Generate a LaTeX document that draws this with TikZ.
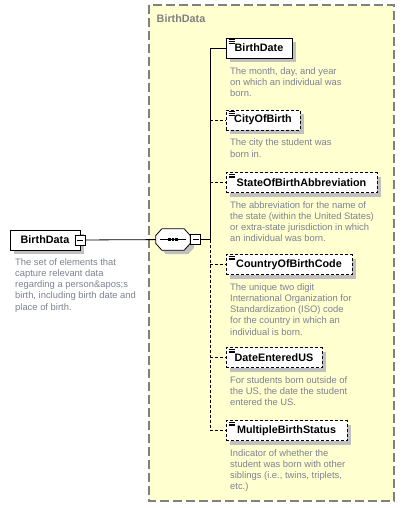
\documentclass[tikz,border=0pt]{standalone}
\usepackage{fontspec}
\setmainfont{Liberation Sans}
\usetikzlibrary{calc}

\definecolor{panelfill}{RGB}{255,255,208}
\definecolor{panelline}{RGB}{128,128,128}
\definecolor{shadowgray}{RGB}{192,192,192}
\definecolor{notegray}{RGB}{125,130,145}

\tikzset{
  boxshadow/.style={preaction={draw=none, fill=shadowgray, transform canvas={xshift=4pt, yshift=-4pt}}},
  elembox/.style={draw=black, fill=white, line width=0.8pt, minimum height=20pt, inner sep=0pt,
    font=\fontsize{10.8}{13}\selectfont\bfseries, boxshadow},
  childbox/.style={elembox, path picture={
    \foreach \k in {1.7,3.3,4.9}
      \draw[solid, line width=0.6pt] ([xshift=2.5pt,yshift=-\k pt]path picture bounding box.north west) -- +(6pt,0);}},
  optbox/.style={childbox, dash pattern=on 3pt off 2pt},
  optline/.style={dash pattern=on 3pt off 2pt},
  note/.style={anchor=north west, align=left, inner sep=0pt, text=notegray,
    font=\fontsize{9.4}{11.25}\selectfont},
  minusbox/.style={draw=black, fill=white, line width=0.8pt, minimum size=10pt, inner sep=0pt,
    path picture={\draw ([xshift=2pt]path picture bounding box.west) -- ([xshift=-2pt]path picture bounding box.east);}},
  seqframe/.style={minimum width=34pt, minimum height=21pt, inner sep=0pt},
}

\begin{document}
\begin{tikzpicture}[x=1pt,y=1pt]
\useasboundingbox (0,0) rectangle (405,-508);

% panel
\draw[fill=panelfill, draw=panelline, line width=1.1pt, dash pattern=on 9pt off 4pt] (149,-5) rectangle (394,-501);
\node[anchor=base west, inner sep=0pt, text=panelline, font=\fontsize{10.8}{13}\selectfont\bfseries] (paneltitle) at (156.5,-22.3) {BirthData};

% root element
\node[elembox, minimum width=70pt] (root) at (45,-240) {BirthData};
\node[minusbox] (rootminus) at (root.east) {};
\node[note] (rootnote) at (15,-258) {The set of elements that\\capture relevant data\\regarding a person\&apos;s\\birth, including birth date and\\place of birth.};

% sequence
\node[seqframe] (seq) at (173,-239.5) {};
\draw[fill=white, line width=0.8pt, boxshadow] ($(seq.west)+(0,4)$) -- ($(seq.north west)+(6,0)$) -- ($(seq.north east)+(-6,0)$) -- ($(seq.east)+(0,4)$)
  -- ($(seq.east)+(0,-4)$) -- ($(seq.south east)+(-6,0)$) -- ($(seq.south west)+(6,0)$) -- ($(seq.west)+(0,-4)$) -- cycle;
\draw[line width=0.8pt] ($(seq.center)+(-13,0)$) -- ($(seq.center)+(13,0)$);
\foreach \dx in {-3.4,0,3.4}
  \fill ($(seq.center)+(\dx,0)$) +(-1.3,-1.3) rectangle +(1.3,1.3);
\node[minusbox, anchor=west] (seqminus) at (seq.east) {};
\coordinate (hub) at (210,-239.5);

% children
\node[childbox, minimum width=66pt] (birthdate) at (259,-48) {BirthDate};
\node[optbox, minimum width=74pt] (city) at (263,-120) {CityOfBirth};
\node[optbox, minimum width=151pt] (state) at (301.5,-182.5) {StateOfBirthAbbreviation};
\node[optbox, minimum width=126pt] (country) at (289,-264.5) {CountryOfBirthCode};
\node[optbox, minimum width=96pt] (entered) at (274,-357.5) {DateEnteredUS};
\node[optbox, minimum width=121pt] (multiple) at (286.5,-430.5) {MultipleBirthStatus};

% notes
\node[note] (birthdatenote) at (230,-67) {The month, day, and year\\on which an individual was\\born.};
\node[note] (citynote) at (230,-138.8) {The city the student was\\born in.};
\node[note] (statenote) at (230,-201) {The abbreviation for the name of\\the state (within the United States)\\or extra-state jurisdiction in which\\an individual was born.};
\node[note] (countrynote) at (230,-283) {The unique two digit\\International Organization for\\Standardization (ISO) code\\for the country in which an\\individual is born.};
\node[note] (enterednote) at (230,-376) {For students born outside of\\the US, the date the student\\entered the US.};
\node[note] (multiplenote) at (230,-449) {Indicator of whether the\\student was born with other\\siblings (i.e., twins, triplets,\\etc.)};

% connectors
\coordinate (j1) at (hub |- birthdate);
\coordinate (j2) at (hub |- city);
\coordinate (j3) at (hub |- state);
\coordinate (j4) at (hub |- country);
\coordinate (j5) at (hub |- entered);
\coordinate (j6) at (hub |- multiple);
\draw[line width=0.8pt] (rootminus) -- (seq);
\draw[line width=0.8pt] (seqminus) -- (hub);
\draw[line width=0.8pt] (hub) -- (j1) -- (birthdate);
\draw[line width=0.8pt, optline] (hub) -- (j6);
\draw[line width=0.8pt, optline] (j2) -- (city);
\draw[line width=0.8pt, optline] (j3) -- (state);
\draw[line width=0.8pt, optline] (j4) -- (country);
\draw[line width=0.8pt, optline] (j5) -- (entered);
\draw[line width=0.8pt, optline] (j6) -- (multiple);
\end{tikzpicture}
\end{document}
